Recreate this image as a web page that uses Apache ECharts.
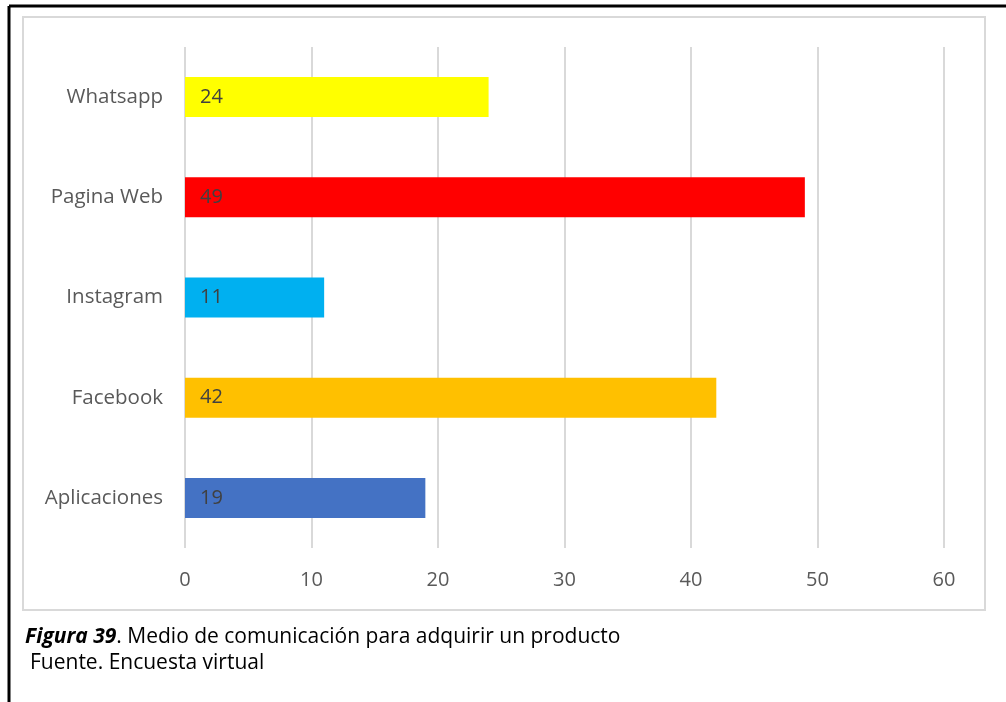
<!DOCTYPE html>
<html><head><meta charset="utf-8">
<script src="https://cdn.jsdelivr.net/npm/echarts@6/dist/echarts.min.js"></script>
<style>html,body{margin:0;padding:0;background:#fff}#c{width:1006px;height:702px}</style>
</head><body><div id="c"></div>
<script>
const categories = ['Aplicaciones', 'Facebook', 'Instagram', 'Pagina Web', 'Whatsapp'];
const values = [19, 42, 11, 49, 24];
const barColors = ['#4472C4', '#FFC000', '#00B0F0', '#FF0000', '#FFFF00'];
const xTicks = [0, 10, 20, 30, 40, 50, 60];
const captionTitle = 'Figura 39';
const captionText = '. Medio de comunicación para adquirir un producto';
const sourceText = 'Fuente. Encuesta virtual';

const chart = echarts.init(document.getElementById('c'), null, {renderer: 'canvas'});
const font = '"Open Sans", sans-serif';
chart.setOption({
  animation: false,
  grid: {left: 185, right: 62, top: 47, bottom: 154, containLabel: false},
  xAxis: {
    type: 'value', min: xTicks[0], max: xTicks[xTicks.length - 1], interval: 10,
    axisLine: {show: false}, axisTick: {show: false},
    splitLine: {lineStyle: {color: '#d9d9d9', width: 2}},
    axisLabel: {color: '#595959', fontSize: 20, fontFamily: font, margin: 22}
  },
  yAxis: {
    type: 'category', data: categories,
    axisLine: {show: false}, axisTick: {show: false},
    axisLabel: {color: '#595959', fontSize: 20.5, fontFamily: font, margin: 22}
  },
  series: [{
    type: 'bar', barWidth: 40,
    data: values.map((v, i) => ({value: v, itemStyle: {color: barColors[i]}})),
    label: {show: true, position: 'insideLeft', distance: 15, color: '#404040', fontSize: 20, fontFamily: font}
  }],
  graphic: [
    {type: 'rect', shape: {x: 23, y: 17, width: 962, height: 593}, style: {fill: 'none', stroke: '#d9d9d9', lineWidth: 2}, z: -1},
    {type: 'line', shape: {x1: 9, y1: 6, x2: 1006, y2: 6}, style: {stroke: '#000', lineWidth: 3}},
    {type: 'line', shape: {x1: 9, y1: 6, x2: 9, y2: 702}, style: {stroke: '#000', lineWidth: 3}},
    {type: 'text', left: 25, top: 627, style: {
      text: '{b|' + captionTitle + '}{r|' + captionText + '}',
      rich: {
        b: {fontFamily: font, fontSize: 21, fontWeight: 'bold', fontStyle: 'italic', fill: '#000'},
        r: {fontFamily: font, fontSize: 21, fill: '#000'}
      }
    }},
    {type: 'text', left: 30, top: 653, style: {text: sourceText, fontFamily: font, fontSize: 21, fill: '#000'}}
  ]
});
</script>
</body></html>
